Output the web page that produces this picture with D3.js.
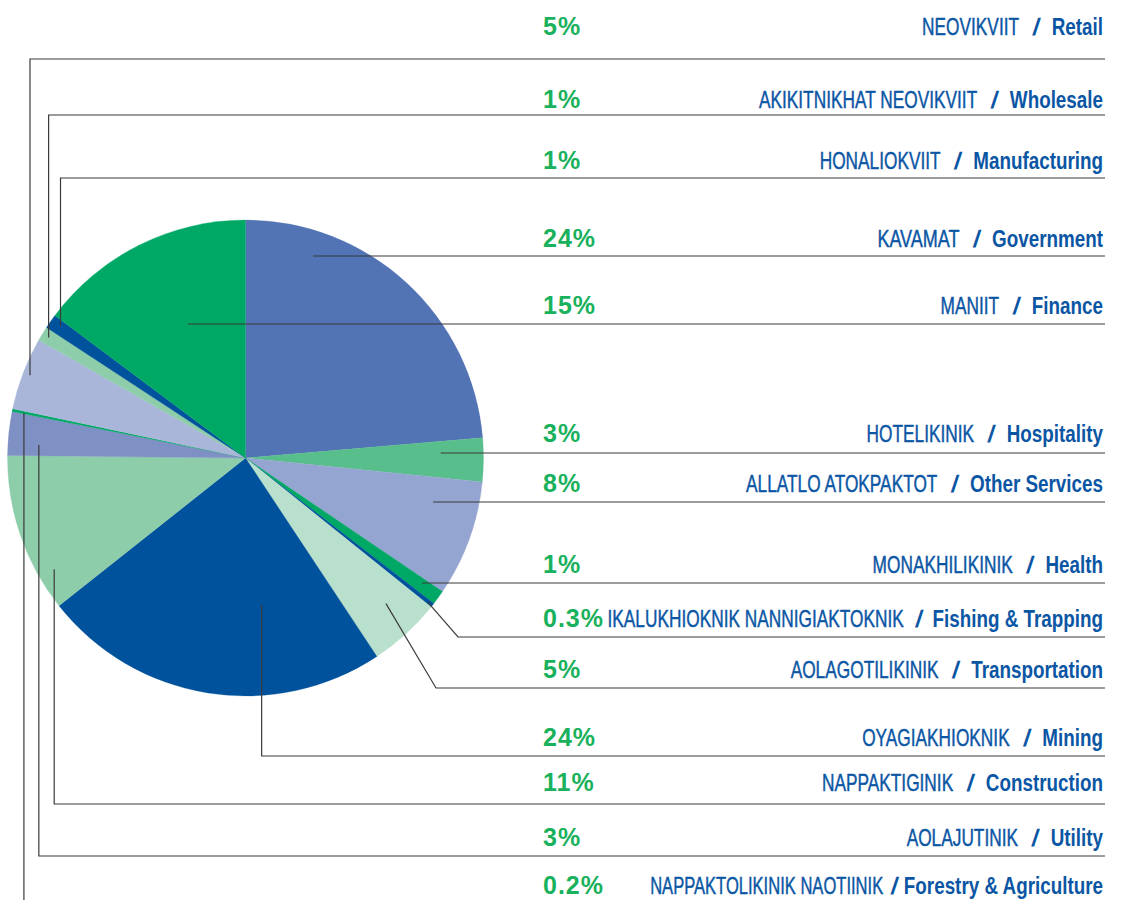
<!DOCTYPE html>
<html>
<head>
<meta charset="utf-8">
<script src="https://cdn.jsdelivr.net/npm/d3@7"></script>
<style>
  html, body { margin: 0; padding: 0; background: #ffffff; }
  svg { display: block; }
</style>
</head>
<body>
<svg id="chart" width="1127" height="900"></svg>
<script>
// ---------------- data (pie order, clockwise from 12 o'clock) ----------------
const sectors = ["Government", "Hospitality", "Other Services", "Health", "Fishing & Trapping",
  "Transportation", "Mining", "Construction", "Utility", "Forestry & Agriculture",
  "Retail", "Wholesale", "Manufacturing", "Finance"];
const nativeNames = ["KAVAMAT", "HOTELIKINIK", "ALLATLO ATOKPAKTOT", "MONAKHILIKINIK",
  "IKALUKHIOKNIK NANNIGIAKTOKNIK", "AOLAGOTILIKINIK", "OYAGIAKHIOKNIK", "NAPPAKTIGINIK",
  "AOLAJUTINIK", "NAPPAKTOLIKINIK NAOTIINIK", "NEOVIKVIIT", "AKIKITNIKHAT NEOVIKVIIT",
  "HONALIOKVIIT", "MANIIT"];
const shares = [24, 3, 8, 1, 0.3, 5, 24, 11, 3, 0.2, 5, 1, 1, 15];
const shareLabels = ["24%", "3%", "8%", "1%", "0.3%", "5%", "24%", "11%", "3%", "0.2%", "5%", "1%", "1%", "15%"];

// ---------------- styling / layout ----------------
const colors = ["#5273b4", "#57be8c", "#95a5d1", "#00a865", "#00529c", "#b9e0cc", "#00529c",
  "#8dcdaa", "#7e90c4", "#00a865", "#a9b6da", "#8dcdaa", "#00529c", "#00a865"];
// label row positions (text baseline, leader line y) per sector
const rowTextY = [247, 442, 492, 573, 627, 678, 746, 791, 846, 894, 35, 108, 169, 314];
const rowLineY = [256, 453, 502, 583, 637, 688, 756, 804, 856, 905, 59, 115, 178, 324];
// horizontal compression of the native-name part (condensed face), and slash gap per row
const nativeFit = [0.75, 0.72, 0.72, 0.72, 0.72, 0.72, 0.72, 0.72, 0.72, 0.69, 0.72, 0.72, 0.72, 0.72];
const slashGap = [13, 13, 13, 13, 11, 13, 13, 13, 13, 7, 13, 13, 13, 13];
// leader anchor inside slice: fraction along slice angle, fraction of radius
const anchorT = [0.217, 0.32, 0.26, 0.34, 0.6, 0.41, 0.32, 0.21, 0.28, 0.3, 0.51, 0.5, 0.64, 0.56];
const anchorR = [0.895, 0.82, 0.81, 0.91, 0.976, 0.85, 0.62, 0.93, 0.87, 0.95, 0.97, 0.97, 0.955, 0.61];
// route: h = straight horizontal, d = diagonal then horizontal, v = vertical then horizontal
const route = ["h", "h", "h", "h", "d", "d", "v", "v", "v", "v", "v", "v", "v", "h"];
const elbowX = [0, 0, 0, 0, 458, 436, 0, 0, 0, 0, 0, 0, 0, 0];

const cx = 245.5, cy = 458, R = 238;
const lineEndX = 1105, pctX = 543, labelX = 1103;
const engFit = 0.785;
const labelColor = "#0b56a4";
const labelFont = "'Liberation Sans', Arial, sans-serif";

const svg = d3.select("#chart");
const g = svg.append("g").attr("transform", `translate(${cx},${cy})`);

const pie = d3.pie().sort(null).value(d => d);
const arcs = pie(shares);
const arc = d3.arc().innerRadius(0).outerRadius(R);

g.selectAll("path.slice")
  .data(arcs)
  .join("path")
  .attr("class", "slice")
  .attr("d", arc)
  .attr("fill", (d, i) => colors[i])
  .attr("stroke", (d, i) => colors[i])
  .attr("stroke-width", 0.3);

// leader lines
function anchor(d, i) {
  const a = d.startAngle + (d.endAngle - d.startAngle) * anchorT[i];
  const r = R * anchorR[i];
  return [cx + r * Math.sin(a), cy - r * Math.cos(a)];
}
const line = d3.line();
svg.append("g").selectAll("path.leader")
  .data(arcs)
  .join("path")
  .attr("class", "leader")
  .attr("fill", "none")
  .attr("stroke", "#3a3a3a")
  .attr("stroke-width", 1.2)
  .attr("d", (d, i) => {
    const [ax, ay] = anchor(d, i);
    const ly = rowLineY[i];
    let pts;
    if (route[i] === "h") pts = [[ax, ly], [lineEndX, ly]];
    else if (route[i] === "d") pts = [[ax, ay], [elbowX[i], ly], [lineEndX, ly]];
    else pts = [[ax, ay], [ax, ly], [lineEndX, ly]];
    return line(pts);
  });

// percent labels
svg.append("g").selectAll("text.pct")
  .data(arcs)
  .join("text")
  .attr("class", "pct")
  .attr("x", pctX)
  .attr("y", (d, i) => rowTextY[i])
  .attr("font-family", labelFont)
  .attr("font-weight", "bold")
  .attr("font-size", 25)
  .attr("letter-spacing", 1)
  .attr("fill", "#19b15c")
  .text((d, i) => shareLabels[i]);

// sector labels: native name / English name, right aligned
const rows = svg.append("g").selectAll("g.lbl")
  .data(arcs)
  .join("g")
  .attr("class", "lbl")
  .attr("transform", (d, i) => `translate(${labelX},${rowTextY[i]})`);

rows.each(function (d, i) {
  const row = d3.select(this);
  const eng = row.append("text")
    .attr("text-anchor", "end")
    .attr("transform", `scale(${engFit},1)`)
    .attr("font-family", labelFont)
    .attr("font-weight", "bold")
    .attr("font-size", 24)
    .attr("fill", labelColor)
    .text(sectors[i]);
  const ew = eng.node().getComputedTextLength() * engFit;
  const gap = slashGap[i];
  const slash = row.append("text")
    .attr("text-anchor", "end")
    .attr("transform", `translate(${-(ew + gap)},0) skewX(-8)`)
    .attr("font-family", labelFont)
    .attr("font-weight", "bold")
    .attr("font-size", 24)
    .attr("fill", labelColor)
    .text("/");
  const sw = slash.node().getComputedTextLength();
  row.append("text")
    .attr("text-anchor", "end")
    .attr("transform", `translate(${-(ew + gap + sw + gap)},0) scale(${nativeFit[i]},1)`)
    .attr("font-family", labelFont)
    .attr("font-weight", "normal")
    .attr("font-size", 24)
    .attr("fill", labelColor)
    .attr("stroke", labelColor)
    .attr("stroke-width", 0.45)
    .text(nativeNames[i]);
});
</script>
</body>
</html>
